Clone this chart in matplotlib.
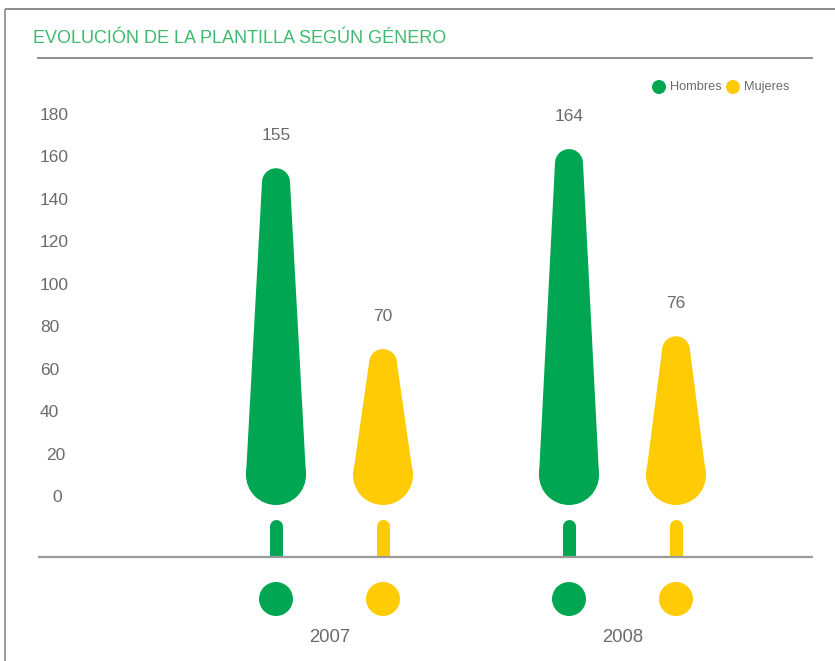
import matplotlib
matplotlib.use("Agg")
import matplotlib.pyplot as plt
from matplotlib.patches import Ellipse, Polygon, Rectangle

# ---- data ----
years = ["2007", "2008"]
series = ["Hombres", "Mujeres"]
hombres = [155, 164]
mujeres = [70, 76]
tick_values = [0, 20, 40, 60, 80, 100, 120, 140, 160, 180]

# ---- style ----
GREEN = "#00a651"
YELLOW = "#ffcb05"
TITLE_GREEN = "#3dba6f"
TEXT_GRAY = "#6b6b6b"
LINE_GRAY = "#9a9a9a"
plt.rcParams["font.family"] = ["Liberation Sans", "DejaVu Sans"]

W, H, DPI = 835, 661, 100
fig = plt.figure(figsize=(W / DPI, H / DPI), dpi=DPI)
ax = fig.add_axes([0, 0, 1, 1])

# value axis: 0 sits at 498 px from the top, 20 units every 42.55 px
PX_PER_UNIT = 42.55 / 20.0
ZERO_PX = 498.0
y_top = ZERO_PX / PX_PER_UNIT
y_bot = (ZERO_PX - H) / PX_PER_UNIT
ax.set_xlim(0, W)
ax.set_ylim(y_bot, y_top)
ax.axis("off")


def px2v(py):
    """Convert a pixel row (from top) to value units."""
    return (ZERO_PX - py) / PX_PER_UNIT


def vlen(px):
    return px / PX_PER_UNIT


group_x = [330, 623]
offsets = [-54, 53]
colors = [GREEN, YELLOW]

# frame lines
ax.plot([4.5, W], [px2v(8.5)] * 2, color="#8a8a8a", lw=1.4, solid_capstyle="butt")
ax.plot([4.5, 4.5], [px2v(8.5), px2v(H)], color=LINE_GRAY, lw=1.4, solid_capstyle="butt")
ax.plot([37, 813], [px2v(58.3)] * 2, color="#7a7a7a", lw=1.2, solid_capstyle="butt")
ax.plot([38, 813], [px2v(556.5)] * 2, color=LINE_GRAY, lw=1.6, solid_capstyle="butt", zorder=5)

# title
ax.text(33, px2v(38.5), "EVOLUCIÓN DE LA PLANTILLA SEGÚN GÉNERO", color=TITLE_GREEN,
        fontsize=13, ha="left", va="center")

# value tick labels
tick_left = {20: 46, 0: 52}
for v in tick_values:
    ax.text(tick_left.get(v, 40), v, str(v), color=TEXT_GRAY, fontsize=12.5,
            ha="left", va="center")

# legend
leg_items = [(659, series[0], GREEN), (733, series[1], YELLOW)]
for cx, lab, col in leg_items:
    ax.add_patch(Ellipse((cx, px2v(87)), 14, vlen(14), color=col, lw=0))
    ax.text(cx + 11, px2v(87), lab, color=TEXT_GRAY, fontsize=9.2, ha="left", va="center")

R_BASE = 30   # px radius of the trunk base
R_TIP = 14    # px radius of the rounded tip
BASE_CY = px2v(475)

# stems are clipped at the baseline so only their tops are rounded
stem_clip = Rectangle((0, px2v(556.5)), W, vlen(60), transform=ax.transData,
                      facecolor="none", edgecolor="none")
ax.add_patch(stem_clip)

for gi, year in enumerate(years):
    for si, vals in enumerate([hombres, mujeres]):
        val = vals[gi]
        col = colors[si]
        cx = group_x[gi] + offsets[si]
        tip_cy = val - vlen(R_TIP)
        # tapered body
        ax.add_patch(Polygon([(cx - R_BASE, BASE_CY), (cx + R_BASE, BASE_CY),
                              (cx + R_TIP, tip_cy), (cx - R_TIP, tip_cy)],
                             closed=True, color=col, lw=0))
        ax.add_patch(Ellipse((cx, BASE_CY), 2 * R_BASE, vlen(2 * R_BASE), color=col, lw=0))
        ax.add_patch(Ellipse((cx, tip_cy), 2 * R_TIP, vlen(2 * R_TIP), color=col, lw=0))
        # value label
        ax.annotate(str(val), (cx, val), xytext=(0, 33 * 72 / DPI), textcoords="offset points",
                    ha="center", va="center", color=TEXT_GRAY, fontsize=12.5)
        # stem
        stem, = ax.plot([cx, cx], [px2v(525.5), px2v(570)], color=col,
                        lw=13 * 72 / DPI, solid_capstyle="round")
        stem.set_clip_path(stem_clip)
        # marker below baseline
        ax.add_patch(Ellipse((cx, px2v(599)), 34, vlen(34), color=col, lw=0))
    ax.text(group_x[gi], px2v(637), year, color=TEXT_GRAY, fontsize=13.3,
            ha="center", va="center")

fig.savefig("out.png", dpi=DPI, facecolor="white")
